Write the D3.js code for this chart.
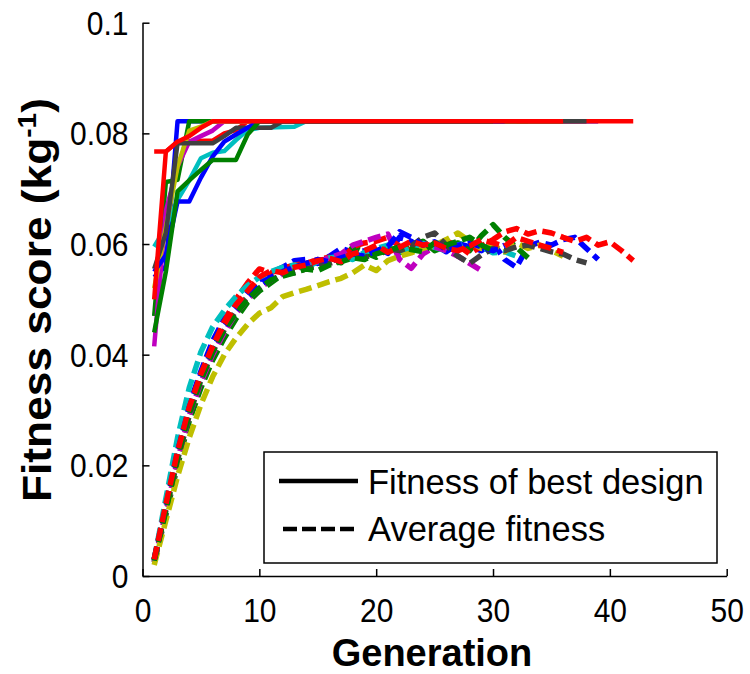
<!DOCTYPE html>
<html><head><meta charset="utf-8">
<script src="https://cdn.jsdelivr.net/npm/d3@7"></script>
<style>body{margin:0;background:#fff}svg{display:block}</style>
</head><body>
<svg id="c" width="750" height="674"></svg>
<script>
// ---------- data ----------
const xTicks = [0, 10, 20, 30, 40, 50];
const yTicks = [0, 0.02, 0.04, 0.06, 0.08, 0.1];
const yTickLabels = ["0", "0.02", "0.04", "0.06", "0.08", "0.1"];
const legendLabels = ["Fitness of best design", "Average fitness"];
const xTitle = "Generation";

const runNames  = ["blueA", "greenA", "redA", "cyan", "magenta", "yellow", "gray", "blueB", "greenB", "redB"];
const runColors = ["#0000ff", "#008000", "#ff0000", "#00bfbf", "#bf00bf", "#bfbf00", "#404040", "#0000ff", "#008000", "#ff0000"];

// best-design fitness: [generation, value] at each change point and at the last generation
const best_blueA   = [[1,.054],[2,.056],[3,.0822],[39,.0822]];
const best_greenA  = [[1,.047],[2,.0712],[3,.0716],[4,.0822],[33,.0822]];
const best_redA    = [[1,.0767],[2,.0767],[3,.0785],[6,.0787],[7,.0800],[8,.0806],[9,.0822],[42,.0822]];
const best_cyan    = [[1,.0595],[2,.063],[3,.068],[4,.0715],[5,.0755],[6,.0765],[7,.0768],[8,.0788],[9,.0806],[10,.081],[13,.0812],[14,.0822],[32,.0822]];
const best_magenta = [[1,.0415],[2,.066],[3,.074],[4,.0785],[5,.0795],[6,.0805],[7,.0822],[29,.0822]];
const best_yellow  = [[1,.052],[2,.063],[3,.074],[4,.0805],[5,.0812],[6,.0822],[36,.0822]];
const best_gray    = [[1,.0555],[2,.062],[3,.0782],[6,.0782],[7,.0795],[8,.081],[11,.081],[12,.0822],[38,.0822]];
const best_blueB   = [[1,.055],[2,.058],[3,.0677],[4,.0677],[5,.072],[6,.0758],[7,.0785],[8,.0798],[9,.081],[10,.0822],[31,.0822]];
const best_greenB  = [[1,.044],[2,.055],[3,.0695],[4,.0715],[5,.0734],[6,.0752],[8,.0752],[9,.0798],[10,.0822],[30,.0822]];
const best_redB    = [[1,.050],[2,.0767],[3,.0785],[4,.0795],[5,.081],[6,.0822],[36,.0822]];

// average fitness per generation (generation 1..N)
const avg_blueA   = [.003,.013,.023,.031,.037,.0425,.0465,.049,.0515,.0535,.0548,.0558,.057,.0572,.0565,.0578,.0592,.0585,.0588,.0594,.0583,.0612,.0605,.0592,.0598,.0586,.0601,.0595,.0588,.0602,.0572,.0558,.0596,.0603,.0598,.0608,.0612,.0592,.0572];
const avg_greenA  = [.0025,.011,.020,.028,.034,.039,.043,.0465,.0495,.0515,.053,.0545,.0552,.0558,.0562,.0572,.0566,.0595,.0585,.0576,.0592,.0584,.0598,.0605,.0588,.0596,.0602,.0588,.0615,.0635,.0612,.0594,.0575];
const avg_redA    = [.003,.0125,.022,.030,.0365,.0415,.046,.050,.053,.0555,.0548,.0556,.0562,.0565,.0572,.0576,.057,.0595,.0602,.0605,.0612,.0596,.0588,.0602,.0594,.0605,.0598,.0582,.0596,.0608,.0622,.0628,.0618,.0624,.062,.0612,.0605,.0612,.0598,.0604,.0588,.057];
const avg_cyan    = [.003,.014,.025,.034,.0405,.045,.048,.0505,.0525,.054,.055,.0558,.0562,.0558,.0568,.0575,.0578,.0572,.0585,.0592,.0598,.0586,.0592,.0601,.0594,.0588,.0598,.0605,.0595,.0584,.0586,.0578];
const avg_magenta = [.0025,.0115,.021,.029,.035,.040,.044,.0475,.050,.052,.0535,.0546,.0555,.0562,.0568,.0575,.0582,.0598,.0605,.0612,.0618,.0572,.0556,.0582,.0595,.0588,.0578,.0565,.0552];
const avg_yellow  = [.002,.010,.018,.025,.031,.036,.040,.043,.0455,.0475,.0485,.0505,.0512,.0518,.0525,.0532,.0538,.0548,.0562,.0552,.057,.0578,.0584,.0592,.0598,.0608,.062,.0605,.0592,.0598,.0586,.0602,.0592,.0598,.0588,.0578];
const avg_gray    = [.003,.012,.021,.029,.0355,.0405,.0445,.048,.0505,.052,.0535,.0545,.0548,.0555,.056,.0565,.0572,.0578,.0575,.0585,.0592,.0588,.0596,.0612,.062,.0598,.0578,.0565,.058,.0592,.0588,.0595,.0598,.0592,.0586,.0582,.0572,.0566];
const avg_blueB   = [.0028,.0125,.0225,.0305,.0365,.041,.045,.048,.0505,.0525,.054,.055,.0558,.0565,.0572,.0568,.0575,.0582,.0578,.0588,.0595,.0622,.0612,.0598,.0604,.059,.0598,.0602,.0595,.0588,.0598];
const avg_greenB  = [.0028,.0118,.0215,.0295,.0355,.0405,.0445,.0475,.050,.052,.0535,.0542,.0548,.0555,.0552,.0562,.0568,.0575,.0572,.0582,.0588,.0595,.059,.0586,.0602,.0598,.0605,.0612,.0598,.0588];
const avg_redB    = [.003,.013,.0225,.0305,.0365,.0415,.0455,.049,.0515,.054,.0552,.0548,.0558,.0562,.057,.0574,.0568,.0582,.0588,.0598,.0585,.0594,.0605,.0598,.0602,.0592,.0588,.0596,.0608,.0602,.0596,.0612,.0605,.0598,.0592,.0585];

const bestRuns = [best_blueA, best_greenA, best_redA, best_cyan, best_magenta, best_yellow, best_gray, best_blueB, best_greenB, best_redB];
const avgRuns  = [avg_blueA, avg_greenA, avg_redA, avg_cyan, avg_magenta, avg_yellow, avg_gray, avg_blueB, avg_greenB, avg_redB];

// ---------- drawing ----------
const svg = d3.select("#c");
const FONT = "'Liberation Sans', Arial, Helvetica, sans-serif";
const x = d3.scaleLinear().domain([0, 50]).range([142.5, 726.7]);
const y = d3.scaleLinear().domain([0, 0.1]).range([576, 22.7]);

const line = d3.line().x(d => x(d[0])).y(d => y(d[1]));

const plot = svg.append("g");
// average (dashed) curves
avgRuns.forEach((arr, i) => {
  plot.append("path")
    .datum(arr.map((v, k) => [k + 1, v]))
    .attr("d", line)
    .attr("fill", "none")
    .attr("stroke", runColors[i])
    .attr("stroke-width", 5.5)
    .attr("stroke-dasharray", "13,6")
    .attr("stroke-linejoin", "round");
});
// best (solid) curves
bestRuns.forEach((arr, i) => {
  plot.append("path")
    .datum(arr)
    .attr("d", line)
    .attr("fill", "none")
    .attr("stroke", runColors[i])
    .attr("stroke-width", 4.5)
    .attr("stroke-linejoin", "round");
});

// axes (MATLAB style: inward ticks, no box)
const xAxis = svg.append("g").attr("transform", `translate(0,${y(0)})`)
  .call(d3.axisBottom(x).tickValues(xTicks).tickSizeInner(-7).tickSizeOuter(0).tickFormat(d3.format("d")));
const yAxis = svg.append("g").attr("transform", `translate(${x(0)},0)`)
  .call(d3.axisLeft(y).tickValues(yTicks).tickSizeInner(-7).tickSizeOuter(0).tickFormat((d, i) => yTickLabels[i]));
[xAxis, yAxis].forEach(g => {
  g.select(".domain").attr("stroke", "#000").attr("stroke-width", 1.5);
  g.selectAll(".tick line").attr("stroke", "#000").attr("stroke-width", 1.5);
  g.selectAll("text").attr("font-family", FONT).attr("font-size", 30).attr("fill", "#000");
});
xAxis.selectAll(".tick text").attr("y", 0).attr("dy", 0)
  .attr("transform", "translate(0,46) scale(1,1.12)");
yAxis.selectAll(".tick text").attr("x", 0).attr("dy", "0.35em")
  .attr("transform", "translate(-14,0) scale(1,1.08)");

// axis titles
svg.append("text")
  .attr("x", 432).attr("y", 666)
  .attr("text-anchor", "middle")
  .attr("font-family", FONT).attr("font-weight", "bold").attr("font-size", 38)
  .text(xTitle);

const yt = svg.append("text")
  .attr("transform", "translate(51,300) rotate(-90)")
  .attr("text-anchor", "middle")
  .attr("font-family", FONT).attr("font-weight", "bold").attr("font-size", 41)
  .attr("textLength", 404).attr("lengthAdjust", "spacingAndGlyphs");
yt.append("tspan").text("Fitness score (kg");
yt.append("tspan").attr("dy", -15).attr("font-size", 26).text("-1");
yt.append("tspan").attr("dy", 15).text(")");

// legend
const lg = svg.append("g");
lg.append("rect").attr("x", 264).attr("y", 452).attr("width", 453).attr("height", 111)
  .attr("fill", "#fff").attr("stroke", "#000").attr("stroke-width", 1.5);
lg.append("line").attr("x1", 279).attr("x2", 358).attr("y1", 481).attr("y2", 481)
  .attr("stroke", "#000").attr("stroke-width", 4.5);
lg.append("line").attr("x1", 283).attr("x2", 358).attr("y1", 529).attr("y2", 529)
  .attr("stroke", "#000").attr("stroke-width", 4.5).attr("stroke-dasharray", "14,5");
lg.selectAll("text.lab").data(legendLabels).enter().append("text")
  .attr("class", "lab")
  .attr("x", 368).attr("y", (d, i) => 494 + i * 47)
  .attr("font-family", FONT).attr("font-size", 34.5).attr("fill", "#000")
  .text(d => d);
</script>
</body></html>
